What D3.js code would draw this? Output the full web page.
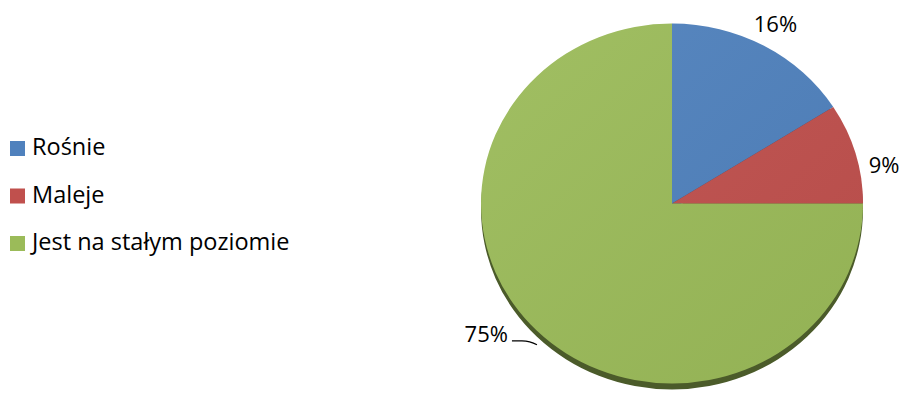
<!DOCTYPE html>
<html lang="pl">
  <head>
    <meta charset="UTF-8" />
    <title>Pie</title>
    <script src="https://cdn.jsdelivr.net/npm/d3@7/dist/d3.min.js"></script>
    <style>
      body { margin: 0; background: #fff; }
      text { font-family: 'Open Sans', sans-serif; fill: #000; }
    </style>
  </head>
  <body>
    <div id='app'></div>
    <script>
  // data
  const categories = ['Rośnie', 'Maleje', 'Jest na stałym poziomie']
  const values = [16, 9, 75]
  const labels = ['16%', '9%', '75%']
  const colors = ['#4F81BD', '#C0504D', '#9BBB59']
  const edgeColors = ['#2f4d72', '#73302e', '#4b5b2a']

  const width = 901
  const height = 397
  const cx = 672, cy = 203.5
  const r = 191
  const ky = 180 / 191   // slight tilt
  const depth = 6

  const svg = d3.select('#app').append('svg')
    .attr('width', width)
    .attr('height', height)

  const defs = svg.append('defs')
  const grad = defs.append('linearGradient')
    .attr('id', 'shine')
    .attr('x1', 0).attr('y1', 0).attr('x2', 1).attr('y2', 1)
  grad.append('stop').attr('offset', 0).attr('stop-color', '#fff').attr('stop-opacity', 0.06)
  grad.append('stop').attr('offset', 1).attr('stop-color', '#000').attr('stop-opacity', 0.05)

  const pie = d3.pie().sort(null).value(d => d)
  const arcs = pie(values)
  const arc = d3.arc().innerRadius(0).outerRadius(r)

  // side / thickness
  svg.append('g')
    .attr('transform', `translate(${cx},${cy + depth}) scale(1,${ky})`)
    .selectAll('path')
    .data(arcs)
    .join('path')
    .attr('d', arc)
    .attr('fill', (d, i) => edgeColors[i])

  const face = svg.append('g')
    .attr('transform', `translate(${cx},${cy}) scale(1,${ky})`)

  face.selectAll('path.slice')
    .data(arcs)
    .join('path')
    .attr('class', 'slice')
    .attr('d', arc)
    .attr('fill', (d, i) => colors[i])

  face.append('circle')
    .attr('r', r)
    .attr('fill', 'url(#shine)')

  // labels
  const pt = (a, rr) => [cx + rr * Math.sin(a), cy - rr * Math.cos(a) * ky]
  const mid = d => (d.startAngle + d.endAngle) / 2

  const lbl = svg.append('g').style('font-size', '22px')

  // 16%
  let p = pt(mid(arcs[0]), r * 1.07)
  lbl.append('text').attr('x', p[0] + 5).attr('y', p[1] - 3)
    .attr('text-anchor', 'middle').text(labels[0])

  // 9%
  p = pt(arcs[1].startAngle + (arcs[1].endAngle - arcs[1].startAngle) * 0.75, r * 1.03)
  lbl.append('text').attr('x', p[0] + 2).attr('y', p[1] - 4)
    .attr('text-anchor', 'start').text(labels[1])

  // 75% with leader line
  p = pt(mid(arcs[2]), r)
  const e = [p[0], p[1] + depth + 8]
  lbl.append('path')
    .attr('d', `M${e[0]},${e[1]} Q${e[0] - 7},${e[1] - 4} ${e[0] - 15},${e[1] - 4} L${e[0] - 25},${e[1] - 4}`)
    .attr('fill', 'none')
    .attr('stroke', '#000')
    .attr('stroke-width', 1.2)
  lbl.append('text').attr('x', e[0] - 29).attr('y', e[1] - 3)
    .attr('text-anchor', 'end').text(labels[2])

  // legend
  const legend = svg.append('g').attr('transform', 'translate(10,155)')
  const item = legend.selectAll('g')
    .data(categories)
    .join('g')
    .attr('transform', (d, i) => `translate(0,${i * 47.5})`)
  item.append('rect')
    .attr('x', 0).attr('y', -14).attr('width', 15).attr('height', 15)
    .attr('fill', (d, i) => colors[i])
  item.append('text')
    .attr('x', 22).attr('y', 0)
    .style('font-size', '23.5px')
    .text(d => d)
    </script>
  </body>
</html>
